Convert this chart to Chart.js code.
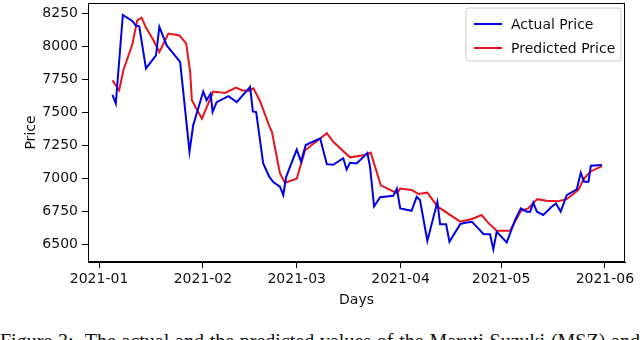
<!DOCTYPE html>
<html>
<head>
<meta charset="utf-8">
<script src="https://cdn.jsdelivr.net/npm/chart.js@4/dist/chart.umd.min.js"></script>
<style>
  html, body { margin: 0; padding: 0; background: #fff; width: 640px; height: 340px; overflow: hidden; }
  #wrap { position: absolute; left: 0; top: 0; width: 640px; height: 313px; }
  #cap { position: absolute; left: 0; top: 331px; width: 640px; font-family: "Liberation Serif", "DejaVu Serif", serif;
         font-size: 20px; line-height: 1; color: #111; white-space: nowrap; text-align: justify; text-align-last: justify; }
</style>
</head>
<body>
<div id="wrap"><canvas id="c" width="640" height="313"></canvas></div>
<div id="cap">Figure 3:&nbsp; The actual and the predicted values of the Maruti Suzuki (MSZ) and</div>
<script>
// Days counted from 2021-01-01 (day 0)
const tickDays = [0, 31, 59, 90, 120, 151];
const tickLabels = ["2021-01", "2021-02", "2021-03", "2021-04", "2021-05", "2021-06"];
const yTicks = [6500, 6750, 7000, 7250, 7500, 7750, 8000, 8250];

const actualDays = [4, 5, 7.1, 9.9, 11, 12, 14, 17, 18, 20.2, 24.2, 27, 28.1, 31.1, 32.1, 33.3, 33.9, 35.1, 38.6, 41.1,
  45.1, 45.9, 46.9, 49, 50.8, 52, 54, 55, 55.8, 59, 60.3, 61.7, 66, 68, 69.9, 72.9, 73.9, 74.9, 76.9, 80.1,
  80.9, 82.1, 83.9, 87.8, 88.9, 89.9, 93.3, 94.8, 95.8, 98, 101, 101.8, 103.6, 104.6, 107.8, 109.3, 111.3, 113.2, 114.7, 116.7,
  117.7, 118.7, 121.7, 124.2, 125.9, 127.7, 128.7, 129.6, 130.7, 132.6, 135.1, 136.4, 137.8, 139.6, 142.6, 143.8, 144.8, 146.1, 146.8, 150.1];
const actualPrice = [7630, 7565, 8235, 8190, 8155, 8150, 7830, 7930, 8145, 8005, 7880, 7200, 7400, 7655, 7590, 7640, 7500, 7575, 7620, 7575,
  7690, 7505, 7500, 7110, 7010, 6970, 6935, 6870, 7005, 7215, 7125, 7250, 7300, 7105, 7100, 7150, 7065, 7115, 7110, 7190,
  7085, 6785, 6855, 6865, 6920, 6770, 6752, 6858, 6833, 6525, 6820, 6650, 6650, 6517, 6651, 6661, 6669, 6619, 6576, 6574,
  6460, 6593, 6513, 6682, 6770, 6745, 6745, 6813, 6745, 6720, 6783, 6808, 6745, 6871, 6914, 7040, 6972, 6972, 7093, 7098];

const predDays = [4, 6, 7.3, 9.9, 11.4, 12.7, 14, 16.2, 18, 20.7, 24, 26, 27.2, 27.7, 30.7, 34.1, 37.6, 40.9, 42.6, 44.6,
  46.1, 48.1, 50.8, 51.6, 54, 55.5, 59, 61.5, 66, 68, 69.9, 74.9, 79.4, 81.1, 84.1, 88.9, 89.9, 93.3, 95.3, 98,
  101, 107.8, 111.3, 114.2, 116.2, 118.7, 122.7, 125.9, 128.1, 130.8, 133.6, 137.1, 139.6, 143.1, 144.6, 146.6, 150.1];
const predPrice = [7740, 7665, 7820, 8010, 8195, 8215, 8140, 8045, 7955, 8095, 8080, 8020, 7805, 7590, 7450, 7655, 7645, 7685, 7665, 7660,
  7680, 7580, 7395, 7350, 7035, 6965, 6995, 7210, 7300, 7340, 7275, 7157, 7175, 7192, 6945, 6885, 6920, 6910, 6880, 6890,
  6785, 6670, 6690, 6720, 6660, 6600, 6600, 6750, 6770, 6840, 6828, 6825, 6840, 6910, 6990, 7048, 7090];

const seriesNames = ["Actual Price", "Predicted Price"];
const seriesColors = ["#0000e6", "#e8141c"];

const toPts = (xs, ys) => xs.map((x, i) => ({ x: x, y: ys[i] }));

const FONT = "'DejaVu Sans', sans-serif";

const frameAndLegend = {
  id: 'frameAndLegend',
  afterDraw(chart) {
    const { ctx, chartArea: a } = chart;
    ctx.save();
    ctx.strokeStyle = '#000';
    ctx.lineWidth = 1;
    ctx.strokeRect(Math.round(a.left) + 0.5, Math.round(a.top) + 0.5, Math.round(a.right - a.left) - 1, Math.round(a.bottom - a.top) - 1);
    // legend box
    const bx = 466, by = 8, bw = 155, bh = 53, r = 3;
    ctx.beginPath();
    ctx.moveTo(bx + r, by);
    ctx.arcTo(bx + bw, by, bx + bw, by + bh, r);
    ctx.arcTo(bx + bw, by + bh, bx, by + bh, r);
    ctx.arcTo(bx, by + bh, bx, by, r);
    ctx.arcTo(bx, by, bx + bw, by, r);
    ctx.closePath();
    ctx.fillStyle = 'rgba(255,255,255,0.8)';
    ctx.fill();
    ctx.strokeStyle = '#cccccc';
    ctx.stroke();
    ctx.font = "14px " + FONT;
    ctx.textBaseline = 'middle';
    ctx.textAlign = 'left';
    chart.data.datasets.forEach((ds, i) => {
      const y = by + 16 + i * 24;
      ctx.strokeStyle = ds.borderColor;
      ctx.lineWidth = 2;
      ctx.beginPath();
      ctx.moveTo(474, y);
      ctx.lineTo(502, y);
      ctx.stroke();
      ctx.fillStyle = '#111';
      ctx.fillText(ds.label, 511, y + 1);
    });
    ctx.restore();
  }
};

new Chart(document.getElementById('c'), {
  type: 'line',
  data: {
    datasets: [
      { label: seriesNames[0], data: toPts(actualDays, actualPrice), borderColor: seriesColors[0], borderWidth: 2, pointRadius: 0, tension: 0, fill: false },
      { label: seriesNames[1], data: toPts(predDays, predPrice), borderColor: seriesColors[1], borderWidth: 2, pointRadius: 0, tension: 0, fill: false }
    ]
  },
  options: {
    responsive: false,
    animation: false,
    events: [],
    layout: { padding: { top: 3, right: 15, left: 0, bottom: 0 } },
    plugins: { legend: { display: false }, tooltip: { enabled: false } },
    scales: {
      x: {
        type: 'linear',
        min: -3.3, max: 157,
        afterBuildTicks: s => { s.ticks = tickDays.map(v => ({ value: v })); },
        afterFit: s => { s.height = 51; s.paddingLeft = 0; s.paddingRight = 0; },
        ticks: {
          autoSkip: false, maxRotation: 0, padding: 3, color: '#111',
          font: { family: FONT, size: 14 },
          callback: (v) => { const i = tickDays.indexOf(v); return i >= 0 ? tickLabels[i] : ''; }
        },
        grid: { drawOnChartArea: false, drawTicks: true, tickLength: 6, color: '#000', tickColor: '#000' },
        border: { display: true, color: '#000', width: 1 },
        title: { display: true, text: 'Days', color: '#111', font: { family: FONT, size: 14 }, padding: { top: 0, bottom: 4 } }
      },
      y: {
        type: 'linear',
        min: 6364, max: 8326,
        afterBuildTicks: s => { s.ticks = yTicks.map(v => ({ value: v })); },
        afterFit: s => { s.width = 88; s.paddingTop = 0; s.paddingBottom = 0; },
        ticks: { padding: 4, color: '#111', font: { family: FONT, size: 14 }, callback: v => String(v) },
        grid: { drawOnChartArea: false, drawTicks: true, tickLength: 6, color: '#000', tickColor: '#000' },
        border: { display: true, color: '#000', width: 1 },
        title: { display: true, text: 'Price', color: '#111', font: { family: FONT, size: 14 }, padding: { top: 23, bottom: 0 } }
      }
    }
  },
  plugins: [frameAndLegend]
});
</script>
</body>
</html>
